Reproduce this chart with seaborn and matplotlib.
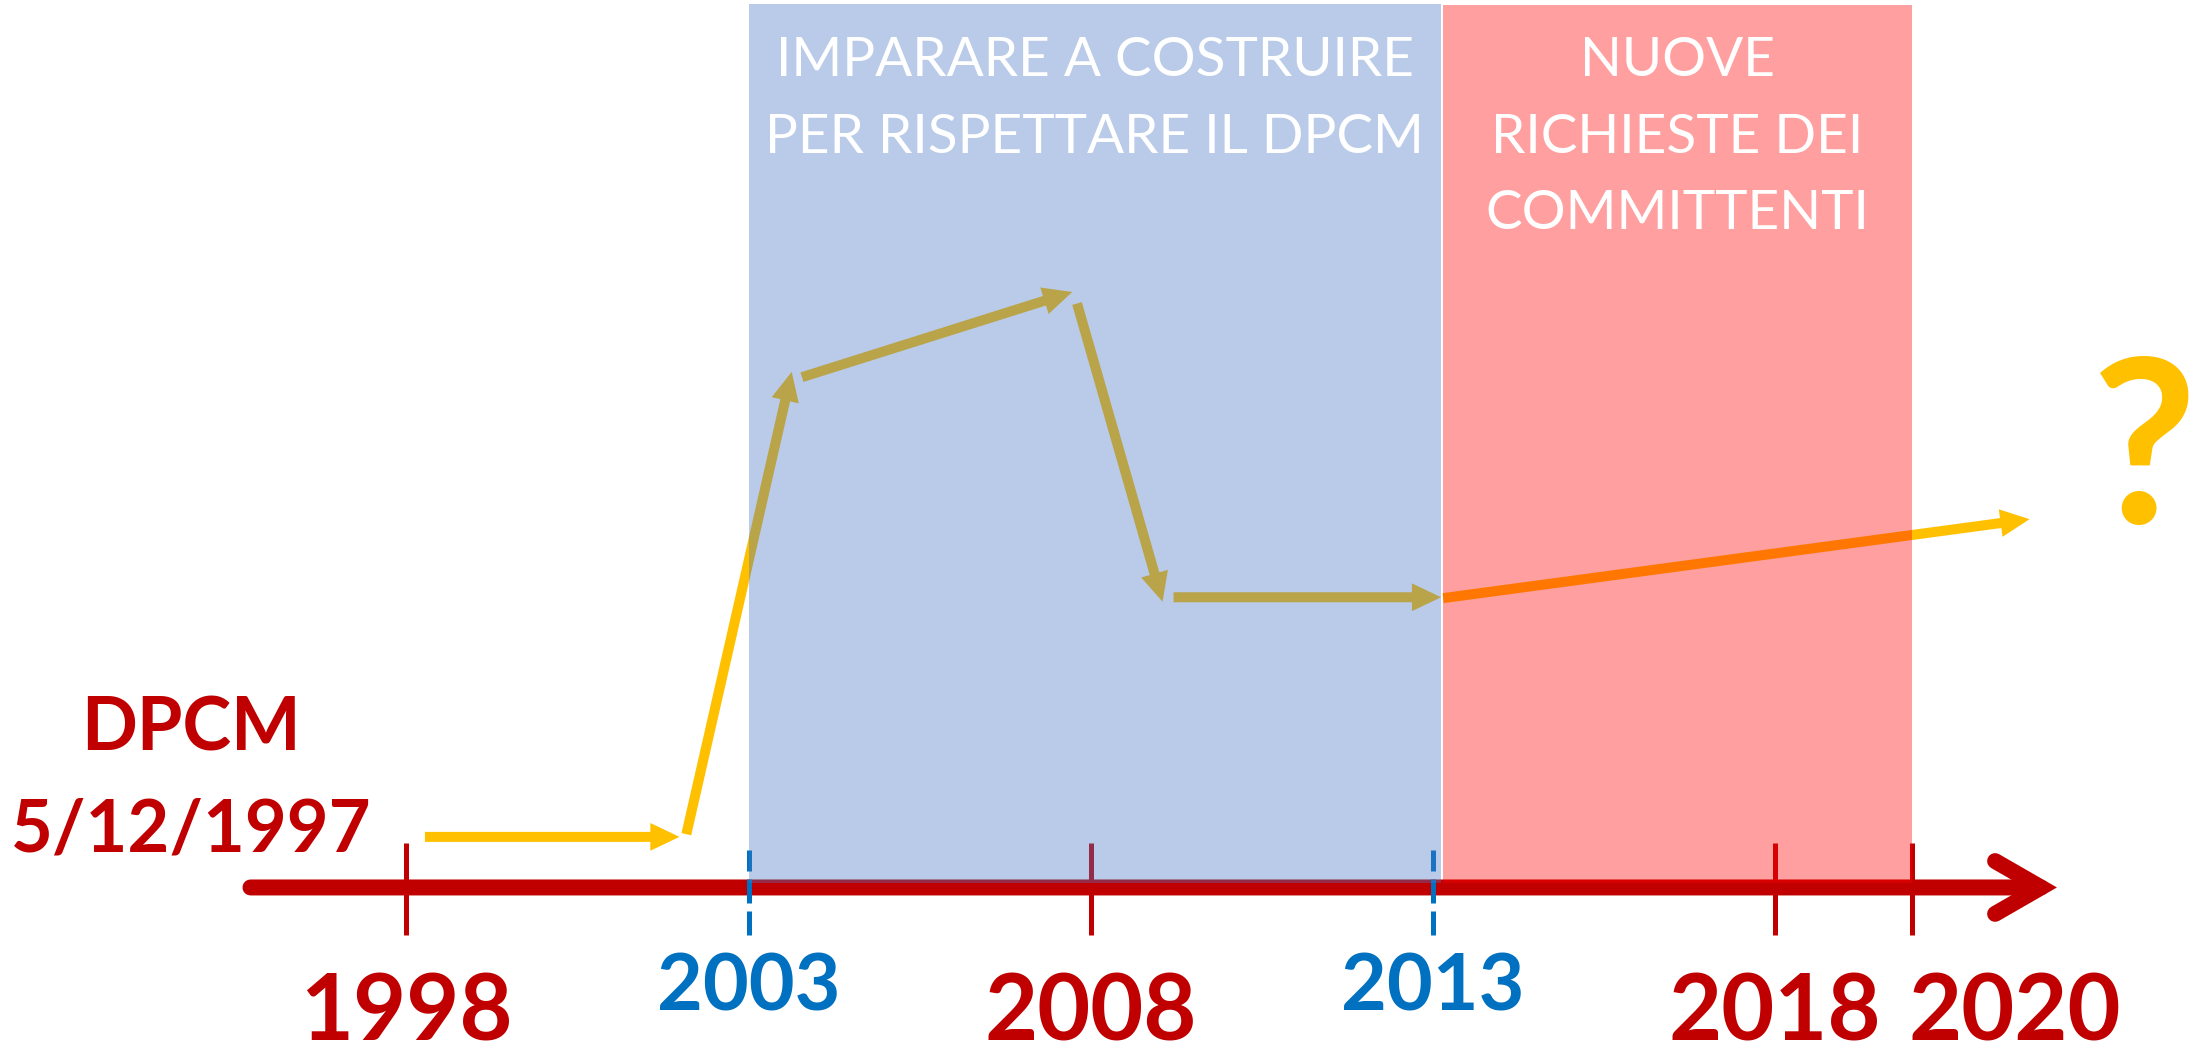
import matplotlib
matplotlib.use("Agg")
import matplotlib.pyplot as plt
import seaborn as sns
from matplotlib.patches import FancyArrowPatch

# anni sulla linea del tempo
red_years = [1998, 2008, 2018, 2020]
blue_years = [2003, 2013]

# fasi (riquadri colorati)
phase_start = [2003, 2013.15]
phase_end = [2013.12, 2020]
phase_labels = [
    "IMPARARE A COSTRUIRE\nPER RISPETTARE IL DPCM",
    "NUOVE\nRICHIESTE DEI\nCOMMITTENTI",
]

# percorso delle frecce gialle (anno, livello)
path_x0 = [1998.27, 2002.09, 2003.78, 2007.80, 2009.21, 2013.15]
path_y0 = [5.7, 6.0, 57.5, 65.8, 32.7, 32.6]
path_x1 = [2001.99, 2003.63, 2007.73, 2009.05, 2013.12, 2021.72]
path_y1 = [5.7, 58.1, 67.1, 32.2, 32.7, 41.5]

RED = "#C00000"
BLUE = "#0070C0"
YELLOW = "#FFC000"
phase_colors = ["#4776C3", "#FF0000"]

sns.set_theme(style="white")
plt.rcParams["font.family"] = ["Lato", "DejaVu Sans"]

fig = plt.figure(figsize=(22.02, 10.52), dpi=100)
ax = fig.add_axes([0, 0, 1, 1])
ax.set_xlim(1992.06, 2024.24)
ax.set_ylim(-18.54, 100)
ax.axis("off")

# --- asse del tempo ---
ax.add_patch(FancyArrowPatch((1995.72, 0), (2022.12, 0),
                             arrowstyle="->,head_length=33,head_width=19",
                             mutation_scale=1, lw=11.5, color=RED,
                             capstyle="round", joinstyle="miter",
                             shrinkA=0, shrinkB=0, zorder=2))

ax.vlines(red_years, -5.35, 5.0, color=RED, lw=3.6, zorder=2)
ax.vlines(blue_years, -5.35, 4.2, color=BLUE, lw=3.6,
          linestyles=[(0, (4.8, 1.6))], zorder=2)

# --- frecce gialle ---
for x0, y0, x1, y1 in zip(path_x0, path_y0, path_x1, path_y1):
    ax.add_patch(FancyArrowPatch((x0, y0), (x1, y1), arrowstyle="-",
                                 lw=7.2, color=YELLOW, capstyle="butt",
                                 shrinkA=0, shrinkB=9, zorder=2))
    ax.add_patch(FancyArrowPatch((x0, y0), (x1, y1),
                                 arrowstyle="-|>,head_length=21,head_width=10",
                                 mutation_scale=1, lw=0, color=YELLOW,
                                 shrinkA=0, shrinkB=0, zorder=2))

# --- riquadri delle fasi (trasparenti sopra le frecce) ---
tops = [99.55, 99.4]
for s, e, c, t, lab in zip(phase_start, phase_end, phase_colors, tops, phase_labels):
    ax.fill_between([s, e], 0.55, t, color=c, alpha=0.375, lw=0, zorder=3)
    for i, line in enumerate(lab.split("\n")):
        ax.text((s + e) / 2, 91.4 - i * 8.6, line, color="white",
                fontsize=39.5, ha="center", va="baseline", zorder=4)

# --- etichette anni ---
for yr in red_years:
    lx = yr + 1.5 if yr == 2020 else yr
    ax.text(lx, -17.2, str(yr), color=RED, fontsize=66, fontweight="bold",
            ha="center", va="baseline", zorder=4)
for yr in blue_years:
    ax.text(yr, -13.9, str(yr), color=BLUE, fontsize=57, fontweight="bold",
            ha="center", va="baseline", zorder=4)

# --- DPCM ---
ax.text(1994.85, 15.4, "DPCM", color=RED, fontsize=53, fontweight="bold",
        ha="center", va="baseline", zorder=4)
ax.text(1994.85, 4.0, "5/12/1997", color=RED, fontsize=52, fontweight="bold",
        ha="center", va="baseline", zorder=4)

# --- punto interrogativo ---
ax.text(2023.4, 41.1, "?", color=YELLOW, fontsize=165, fontweight="bold",
        ha="center", va="baseline", zorder=4)

plt.savefig("out.png", dpi=100)
